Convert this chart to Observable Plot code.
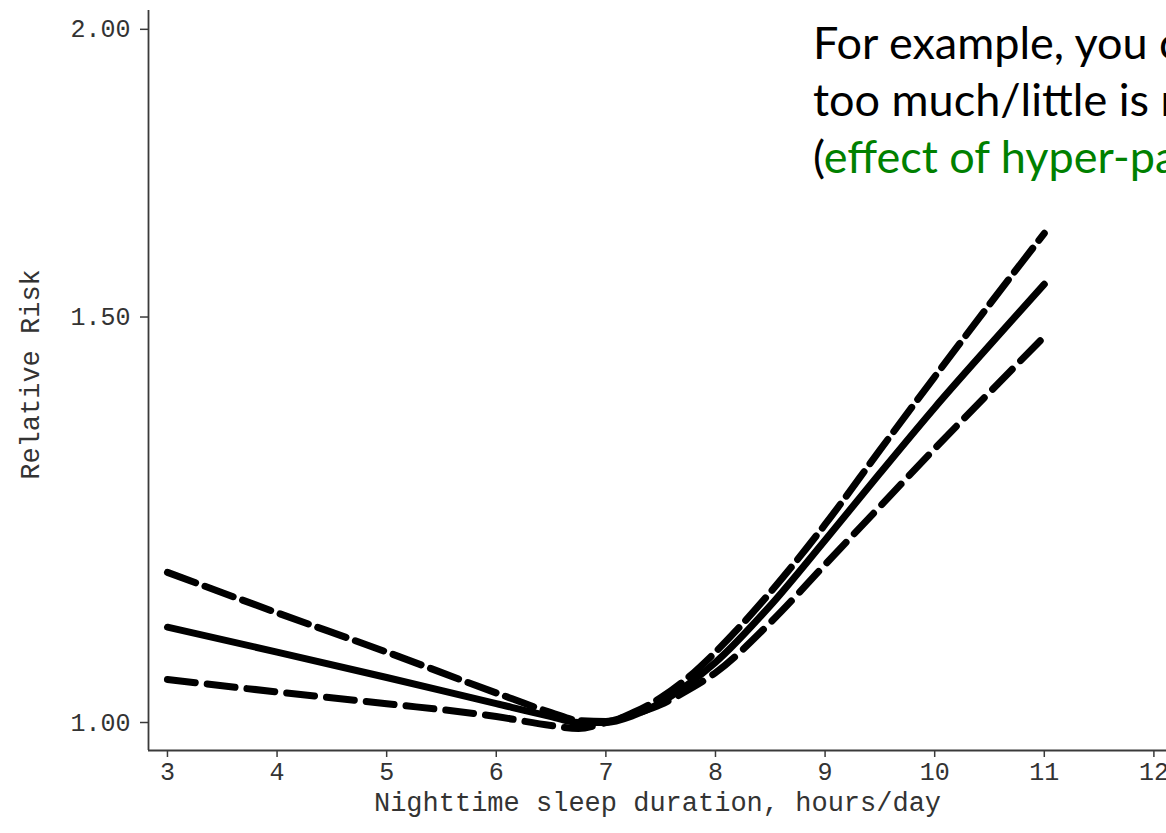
<!DOCTYPE html>
<html>
<head>
<meta charset="utf-8">
<script src="https://cdn.jsdelivr.net/npm/d3@7"></script>
<script src="https://cdn.jsdelivr.net/npm/@observablehq/plot@0.6"></script>
<style>
  html, body { margin: 0; padding: 0; background: #fff; overflow: hidden; width: 1166px; height: 833px; }
  #wrap { position: relative; width: 1166px; height: 833px; overflow: hidden; }
  #chart { position: absolute; left: 0; top: 0; }
  #note { position: absolute; left: 813px; top: 14px; font-family: Lato, "Open Sans", sans-serif; font-size: 45px; line-height: 57px; white-space: nowrap; color: #000; }
  #note .g { color: #008000; }
</style>
</head>
<body>
<div id="wrap">
  <div id="chart"></div>
  <div id="note"></div>
</div>
<script>
// Sleep duration (hours/day)
const hours = [3, 4, 5, 6, 6.5, 6.75, 7, 7.25, 7.5, 7.75, 8, 8.5, 9, 9.5, 10, 10.5, 11];
// Relative risk estimate and 95% CI bounds
const rrEstimate = [1.100, 1.073, 1.046, 1.019, 1.006, 1.000, 1.000, 1.007, 1.020, 1.039, 1.062, 1.124, 1.200, 1.283, 1.370, 1.458, 1.550];
const rrUpper    = [1.162, 1.116, 1.073, 1.030, 1.010, 1.002, 1.001, 1.010, 1.025, 1.046, 1.073, 1.139, 1.219, 1.313, 1.413, 1.519, 1.631];
const rrLower    = [1.044, 1.031, 1.019, 1.006, 0.997, 0.994, 1.000, 1.008, 1.018, 1.033, 1.051, 1.105, 1.171, 1.241, 1.315, 1.391, 1.471];

const xTicks = [3, 4, 5, 6, 7, 8, 9, 10, 11, 12];
const yTicks = [1.0, 1.5, 2.0];
const xTitle = "Nighttime sleep duration, hours/day";
const yTitle = "Relative Risk";
const noteLines = ["For example, you can", "too much/little is not", "(", "effect of hyper-parameter"];

const xDomain = [2.827, 12.115];
const yDomain = [0.9724, 2.038];

const rows = (vals) => hours.map((h, i) => ({h, v: vals[i]}));

const tickFont = "Liberation Mono, DejaVu Sans Mono, monospace";
const axisColor = "#3a3a3a";

const chart = Plot.plot({
  width: 1166,
  height: 833,
  marginLeft: 148,
  marginRight: 0,
  marginTop: 10,
  marginBottom: 83,
  style: { background: "#fff", fontFamily: tickFont, color: axisColor, overflow: "visible" },
  x: { domain: xDomain },
  y: { type: "log", domain: yDomain },
  marks: [
    Plot.axisX({ ticks: xTicks, tickSize: 7, tickPadding: 5, tickFormat: d3.format("d"), fontSize: 25, label: null, stroke: axisColor, strokeWidth: 1.5, fill: "#333" }),
    Plot.axisY({ ticks: yTicks, tickSize: 8, tickPadding: 10, tickFormat: d3.format(".2f"), fontSize: 25, label: null, stroke: axisColor, strokeWidth: 1.5, fill: "#333" }),
    Plot.ruleX([xDomain[0]], { stroke: axisColor, strokeWidth: 1.8 }),
    Plot.ruleY([yDomain[0]], { stroke: axisColor, strokeWidth: 1.8 }),
    Plot.line(rows(rrUpper), { x: "h", y: "v", curve: "monotone-x", stroke: "#000", strokeWidth: 7, strokeLinecap: "round", strokeDasharray: "30,10" }),
    Plot.line(rows(rrEstimate), { x: "h", y: "v", curve: "monotone-x", stroke: "#000", strokeWidth: 7, strokeLinecap: "round" }),
    Plot.line(rows(rrLower), { x: "h", y: "v", curve: "monotone-x", stroke: "#000", strokeWidth: 7, strokeLinecap: "round", strokeDasharray: "28,12" }),
    Plot.text([xTitle], { frameAnchor: "bottom", dy: 60, text: d => d, fontSize: 27, fill: "#333", fontFamily: tickFont }),
    Plot.text([yTitle], { frameAnchor: "left", dx: -118, dy: -6, rotate: -90, textAnchor: "middle", text: d => d, fontSize: 27, fill: "#333", fontFamily: tickFont })
  ]
});
document.getElementById("chart").appendChild(chart);

const note = document.getElementById("note");
note.innerHTML = "";
note.appendChild(document.createTextNode(noteLines[0]));
note.appendChild(document.createElement("br"));
note.appendChild(document.createTextNode(noteLines[1]));
note.appendChild(document.createElement("br"));
note.appendChild(document.createTextNode(noteLines[2]));
const g = document.createElement("span");
g.className = "g";
g.textContent = noteLines[3];
note.appendChild(g);
</script>
</body>
</html>
